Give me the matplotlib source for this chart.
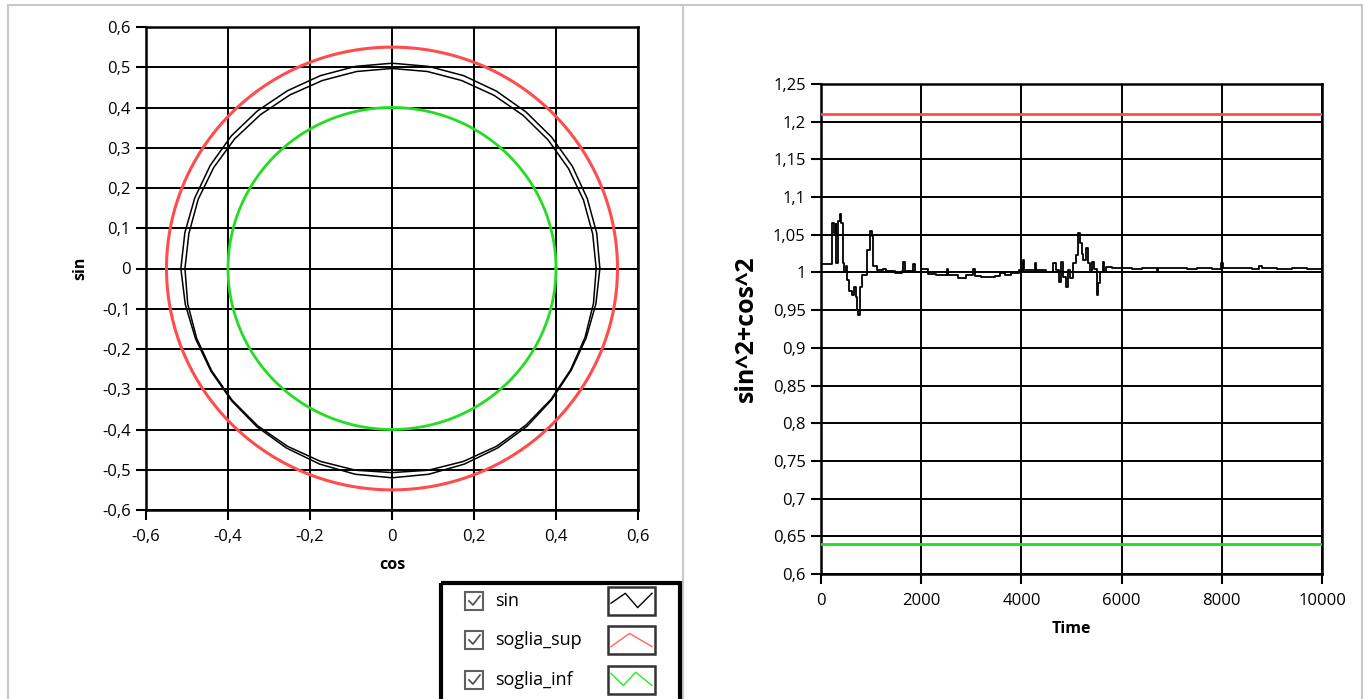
import numpy as np
import matplotlib
matplotlib.use("Agg")
import matplotlib.pyplot as plt
from matplotlib.ticker import FuncFormatter, MultipleLocator
from matplotlib.patches import Rectangle

plt.rcParams['font.family'] = ['Open Sans', 'DejaVu Sans']

# ---- dati grafico XY (sin vs cos) ----
angoli = list(range(0, 360, 10))
raggio_giro1 = [0.507, 0.507, 0.507, 0.508, 0.508, 0.508, 0.509, 0.510, 0.510, 0.510, 0.510, 0.510,
                0.510, 0.511, 0.512, 0.512, 0.512, 0.513, 0.515, 0.512, 0.510, 0.510, 0.511, 0.513,
                0.515, 0.517, 0.519, 0.520, 0.519, 0.517, 0.515, 0.512, 0.508, 0.505, 0.504, 0.505]
raggio_giro2 = [0.498, 0.497, 0.497, 0.497, 0.497, 0.497, 0.497, 0.497, 0.497, 0.497, 0.497, 0.497,
                0.498, 0.499, 0.501, 0.502, 0.503, 0.503, 0.505, 0.506, 0.507, 0.508, 0.509, 0.510,
                0.510, 0.510, 0.509, 0.507, 0.509, 0.510, 0.510, 0.508, 0.506, 0.503, 0.501, 0.499]
soglia_sup_r = 0.55
soglia_inf_r = 0.40

# ---- dati grafico sin^2+cos^2 ----
tempo = [0, 200, 226, 260, 293, 306, 346, 373, 399, 439, 466, 492, 525, 565, 612, 659, 692, 725, 745,
         785, 825, 912, 978, 1011, 1045, 1111, 1245, 1300, 1477, 1620, 1644, 1670, 1843, 1870, 1996,
         2143, 2300, 2509, 2540, 2742, 2900, 3041, 3070, 3200, 3473, 3573, 3673, 3800, 3950, 4025,
         4060, 4272, 4300, 4500, 4637, 4690, 4744, 4790, 4840, 4890, 4930, 4980, 5030, 5090, 5136,
         5170, 5200, 5230, 5290, 5330, 5370, 5410, 5450, 5502, 5530, 5560, 5622, 5650, 5686, 5800,
         6000, 6200, 6400, 6700, 6730, 7000, 7300, 7500, 7800, 7980, 8020, 8300, 8600, 8750, 8800,
         9100, 9400, 9700, 10000]
somma = [1.011, 1.011, 1.066, 1.052, 1.064, 1.012, 1.068, 1.077, 1.066, 1.012, 1.001, 1.008, 0.990,
         0.976, 0.970, 0.981, 0.968, 0.950, 0.943, 0.981, 0.997, 1.030, 1.055, 1.048, 1.008, 1.003,
         1.005, 1.002, 0.999, 1.002, 1.014, 1.002, 1.011, 1.001, 1.005, 0.998, 0.996, 1.005, 0.996,
         0.993, 0.996, 1.004, 0.995, 0.994, 0.995, 0.999, 0.996, 0.999, 1.003, 1.016, 1.003, 1.013,
         1.003, 1.001, 1.013, 1.003, 0.988, 1.014, 0.994, 0.981, 1.003, 0.992, 1.012, 1.023, 1.052,
         1.039, 1.025, 1.016, 1.032, 1.012, 1.001, 1.014, 1.005, 0.970, 0.986, 1.001, 1.014, 1.001,
         1.007, 1.006, 1.006, 1.005, 1.006, 1.001, 1.006, 1.006, 1.005, 1.006, 1.005, 1.012, 1.006,
         1.006, 1.005, 1.008, 1.006, 1.005, 1.006, 1.005, 1.006]
soglia_sup_val = 1.21
soglia_inf_val = 0.64

W, H = 1370, 699
fig = plt.figure(figsize=(W / 100, H / 100), dpi=100)

def fx(px):
    return px / W

def fy(py):
    return 1 - py / H

def virgola(v, pos):
    s = '%g' % round(v, 4)
    return s.replace('.', ',')

# overlay in pixel per cornice e legenda
bg = fig.add_axes([0, 0, 1, 1])
bg.set_xlim(0, W)
bg.set_ylim(H, 0)
bg.axis('off')
grigio = '#c8c8c8'
bg.plot([8, 1362], [5, 5], color=grigio, lw=1.5)
bg.plot([8, 8], [5, H], color=grigio, lw=1.5)
bg.plot([683, 683], [5, H], color=grigio, lw=1.5)
bg.plot([1362, 1362], [5, H], color=grigio, lw=1.5)

# ---- grafico XY ----
ax1 = fig.add_axes([fx(146), fy(510), (638 - 146) / W, (510 - 27) / H])
t = np.linspace(0, 2 * np.pi, 400)
ax1.plot(soglia_sup_r * np.cos(t), soglia_sup_r * np.sin(t), color='#ff4d4d', lw=2.2, zorder=3)
ax1.plot(soglia_inf_r * np.cos(t), soglia_inf_r * np.sin(t), color='#22dd22', lw=2.0, zorder=3)
a = np.deg2rad(np.array(angoli + [360]))
r1 = np.array(raggio_giro1 + [raggio_giro1[0]])
r2 = np.array(raggio_giro2 + [raggio_giro2[0]])
ax1.plot(r1 * np.cos(a), r1 * np.sin(a), color='black', lw=1.1, zorder=4)
ax1.plot(r2 * np.cos(a), r2 * np.sin(a), color='black', lw=1.1, zorder=4)
ax1.set_xlim(-0.6, 0.6)
ax1.set_ylim(-0.6, 0.6)
ax1.xaxis.set_major_locator(MultipleLocator(0.2))
ax1.yaxis.set_major_locator(MultipleLocator(0.1))
ax1.set_xlabel('cos', fontsize=11.5, fontweight='bold', labelpad=8)
ax1.set_ylabel('sin', fontsize=11.5, fontweight='bold', labelpad=10)

# ---- grafico sin^2+cos^2 ----
ax2 = fig.add_axes([fx(821), fy(574), (1322 - 821) / W, (574 - 84) / H])
ax2.axhline(soglia_sup_val, color='#ff4d4d', lw=2, zorder=3)
ax2.axhline(soglia_inf_val, color='#22dd22', lw=2, zorder=3)
ax2.plot(tempo, somma, color='black', lw=1.3, drawstyle='steps-post', zorder=4)
ax2.set_xlim(0, 10000)
ax2.set_ylim(0.6, 1.25)
ax2.xaxis.set_major_locator(MultipleLocator(2000))
ax2.yaxis.set_major_locator(MultipleLocator(0.05))
ax2.set_xlabel('Time', fontsize=11.5, fontweight='bold', labelpad=8)
ax2.set_ylabel('sin^2+cos^2', fontsize=18, fontweight='bold', labelpad=10)

for ax in (ax1, ax2):
    ax.grid(True, color='black', lw=1.4, zorder=1)
    ax.set_axisbelow(True)
    for sp in ax.spines.values():
        sp.set_color('black')
        sp.set_linewidth(1.8)
    ax.tick_params(direction='out', length=7, width=1.5, labelsize=12, colors='black', pad=4)
    ax.tick_params(axis='x', pad=7)
    ax.xaxis.set_major_formatter(FuncFormatter(virgola))
    ax.yaxis.set_major_formatter(FuncFormatter(virgola))

# ---- legenda stile LabVIEW ----
bg.add_patch(Rectangle((441, 583), 239, 118, fill=False, edgecolor='black', lw=3, zorder=5))
voci = ['sin', 'soglia_sup', 'soglia_inf']
colori = ['black', '#ff6666', '#22ee22']
ys = [601, 640, 680]
zig = [[(0.0, 0.6), (0.35, 0.15), (0.65, 0.8), (1.0, 0.15)],
       [(0.0, 0.8), (0.45, 0.2), (1.0, 0.8)],
       [(0.0, 0.2), (0.3, 0.75), (0.6, 0.15), (1.0, 0.75)]]
for nome, col, y, z in zip(voci, colori, ys, zig):
    bg.add_patch(Rectangle((465, y - 9), 18, 18, fill=False, edgecolor='#606060', lw=1.5, zorder=5))
    bg.plot([469, 473, 480], [y, y + 4, y - 5], color='#555555', lw=1.3, zorder=6)
    bg.text(495, y, nome, fontsize=13, va='center', ha='left', color='black', zorder=6)
    x0, y0, w, h = 608, y - 14, 47, 28
    bg.add_patch(Rectangle((x0, y0), w, h, fill=False, edgecolor='#333333', lw=1.8, zorder=5))
    zx = [x0 + 3 + p[0] * (w - 6) for p in z]
    zy = [y0 + 3 + p[1] * (h - 6) for p in z]
    bg.plot(zx, zy, color=col, lw=1.0, zorder=6)

fig.savefig('out.png', dpi=100)
